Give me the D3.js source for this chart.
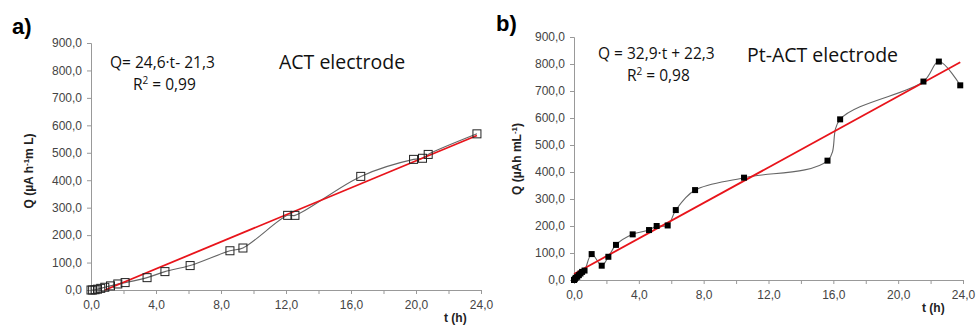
<!DOCTYPE html>
<html>
<head>
<meta charset="utf-8">
<script src="https://cdn.jsdelivr.net/npm/d3@7"></script>
<style>
  body { margin: 0; background: #fff; }
  svg { display: block; }
</style>
</head>
<body>
<svg id="chart" width="978" height="326"></svg>
<script>
// panel a) ACT electrode
const tA = [0, 0.1, 0.25, 0.4, 0.6, 0.85, 1.2, 1.65, 2.1, 3.45, 4.55, 6.1, 8.55, 9.35, 12.1, 12.55, 16.6, 19.85, 20.4, 20.75, 23.75];
const qA = [0, 0, 1, 3, 6, 10, 15, 22, 27, 45, 67, 89, 143, 153, 272, 272, 414, 476, 480, 494, 569];
const fitA = { slope: 24.6, icept: -21.3 };

// panel b) Pt-ACT electrode
const tB = [0, 0.05, 0.1, 0.2, 0.3, 0.4, 0.5, 0.65, 1.09, 1.71, 2.12, 2.59, 3.62, 4.63, 5.1, 5.78, 6.28, 7.47, 10.49, 15.64, 16.42, 21.56, 22.51, 23.83];
const qB = [0, 3, 8, 12, 18, 24, 30, 35, 96, 53, 86, 130, 169, 185, 200, 202, 259, 333, 379, 442, 595, 735, 809, 721];
const fitB = { slope: 32.9, icept: 22.3 };

const xTicks = [0, 4, 8, 12, 16, 20, 24];
const yTicks = [0, 100, 200, 300, 400, 500, 600, 700, 800, 900];

const svg = d3.select("#chart");
const fmt = d => d.toFixed(1).replace(".", ",");

function panel(opt) {
  const x = d3.scaleLinear().domain([0, 24]).range([opt.x0, opt.x1]);
  const y = d3.scaleLinear().domain([0, 900]).range([opt.y0, opt.y1]);
  const g = svg.append("g");

  // y axis
  const ya = g.append("g")
    .attr("transform", `translate(${opt.x0},0)`)
    .call(d3.axisLeft(y).tickValues(yTicks).tickSize(4).tickPadding(5).tickFormat(fmt));
  // x axis, minor ticks every 2
  const xa = g.append("g")
    .attr("transform", `translate(0,${opt.y0})`)
    .call(d3.axisBottom(x).tickValues(d3.range(0, 25, 2)).tickSize(4).tickPadding(6)
      .tickFormat(d => xTicks.includes(d) ? fmt(d) : ""));
  [ya, xa].forEach(a => {
    a.select(".domain").attr("stroke", "#999");
    a.selectAll(".tick line").attr("stroke", "#999");
    a.selectAll(".tick text")
      .attr("fill", "#444")
      .style("font", "12px 'Liberation Sans', Arial, sans-serif");
  });

  // data curve
  const pts = opt.t.map((t, i) => [t, opt.q[i]]);
  g.append("path")
    .datum(pts)
    .attr("fill", "none")
    .attr("stroke", "#666")
    .attr("stroke-width", 1.1)
    .attr("d", d3.line().x(d => x(d[0])).y(d => y(d[1])).curve(d3.curveCatmullRom.alpha(0.5)));

  // trend line
  const tStart = Math.max(0, -opt.fit.icept / opt.fit.slope);
  const tEnd = d3.max(opt.t);
  g.append("line")
    .attr("x1", x(tStart)).attr("y1", y(opt.fit.slope * tStart + opt.fit.icept))
    .attr("x2", x(tEnd)).attr("y2", y(opt.fit.slope * tEnd + opt.fit.icept))
    .attr("stroke", "#e8141b")
    .attr("stroke-width", 1.8);

  // markers
  const s = opt.size;
  g.selectAll("rect.m")
    .data(pts)
    .enter().append("rect")
    .attr("class", "m")
    .attr("x", d => x(d[0]) - s / 2)
    .attr("y", d => y(d[1]) - s / 2)
    .attr("width", s)
    .attr("height", s)
    .attr("fill", opt.filled ? "#000" : "none")
    .attr("stroke", opt.filled ? "none" : "#222")
    .attr("stroke-width", 1);

  // panel letter
  g.append("text")
    .attr("x", opt.letterX).attr("y", opt.letterY)
    .style("font", "bold 22px 'Liberation Sans', Arial, sans-serif")
    .text(opt.letter);

  // y label
  g.append("text")
    .attr("transform", `translate(${opt.ylabX},${opt.ylabY}) rotate(-90)`)
    .attr("text-anchor", "middle")
    .style("font", "bold 12px 'Liberation Sans', Arial, sans-serif")
    .attr("fill", "#222")
    .html(opt.ylab);

  // x label
  g.append("text")
    .attr("x", opt.xlabX).attr("y", opt.xlabY)
    .style("font", "bold 12px 'Liberation Sans', Arial, sans-serif")
    .attr("fill", "#222")
    .text("t (h)");

  // equation & title
  g.append("text")
    .attr("x", opt.eqX).attr("y", opt.eqY)
    .style("font", "15.5px 'Open Sans', sans-serif")
    .attr("fill", "#111")
    .text(opt.eq);
  g.append("text")
    .attr("x", opt.r2X).attr("y", opt.r2Y)
    .style("font", "15.5px 'Open Sans', sans-serif")
    .attr("fill", "#111")
    .html(`R<tspan dy="-6" font-size="10">2</tspan><tspan dy="6"> = ${opt.r2}</tspan>`);
  g.append("text")
    .attr("x", opt.titleX).attr("y", opt.titleY)
    .style("font", "19.5px 'Open Sans', sans-serif")
    .attr("fill", "#111")
    .text(opt.title);
}

panel({
  t: tA, q: qA, fit: fitA, filled: false, size: 8,
  x0: 91, x1: 481, y0: 290, y1: 43,
  letter: "a)", letterX: 12, letterY: 34,
  ylab: 'Q  (µA h<tspan dy="-4" font-size="8">-1</tspan><tspan dy="4">m L)</tspan>', ylabX: 33, ylabY: 171,
  xlabX: 444, xlabY: 322,
  eq: "Q= 24,6·t- 21,3", eqX: 110, eqY: 68,
  r2: "0,99", r2X: 133, r2Y: 90,
  title: "ACT electrode", titleX: 279, titleY: 69
});

panel({
  t: tB, q: qB, fit: fitB, filled: true, size: 6,
  x0: 574, x1: 963, y0: 280, y1: 37,
  letter: "b)", letterX: 496, letterY: 31,
  ylab: 'Q (µAh mL<tspan dy="-4" font-size="8">-1</tspan><tspan dy="4">)</tspan>', ylabX: 521, ylabY: 159,
  xlabX: 922, xlabY: 312,
  eq: "Q = 32,9·t + 22,3", eqX: 598, eqY: 59,
  r2: "0,98", r2X: 627, r2Y: 81,
  title: "Pt-ACT electrode", titleX: 747, titleY: 62
});
</script>
</body>
</html>
